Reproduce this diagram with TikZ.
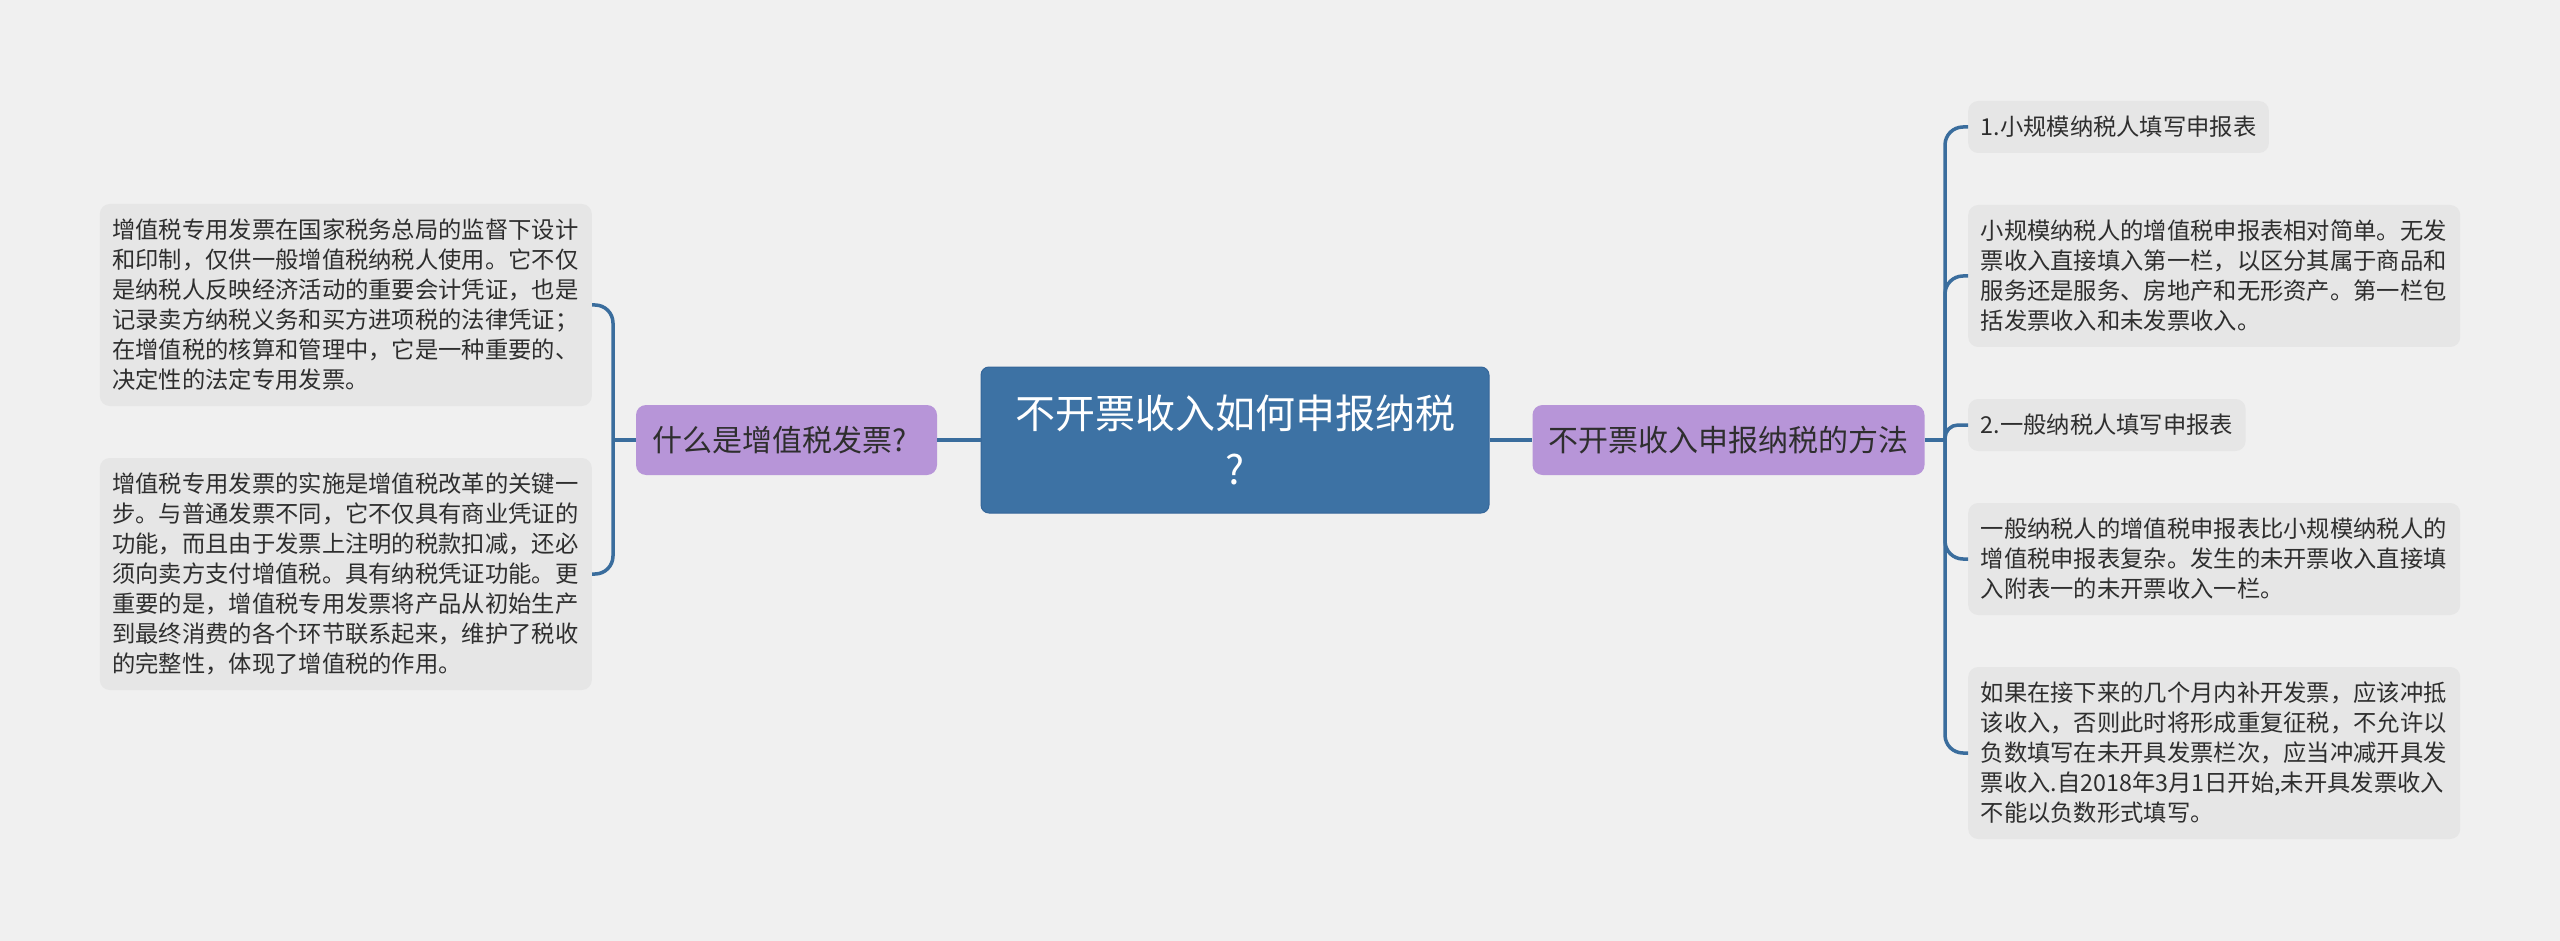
\documentclass[tikz,border=0pt]{standalone}
\usepackage{fontspec}
\setmainfont{Noto Sans CJK SC}
\definecolor{bgc}{HTML}{F0F0F0}
\definecolor{boxc}{HTML}{E6E6E6}
\definecolor{purc}{HTML}{B795D8}
\definecolor{rootc}{HTML}{3D72A4}
\definecolor{rootb}{HTML}{35669A}
\definecolor{linec}{HTML}{3A6D9D}
\definecolor{txtc}{HTML}{2E2E2E}
\tikzset{
  leaf/.style={fill=boxc, rounded corners=10pt, text=txtc, font=\fontsize{23.3}{30}\selectfont,
    inner xsep=12.5pt, inner ysep=0pt, align=left},
  leafwide/.style={leaf, text width=467pt},
  sub/.style={fill=purc, rounded corners=10pt, text=txtc, font=\fontsize{30}{36}\selectfont,
    inner xsep=16pt, inner ysep=0pt, minimum height=70pt},
  root/.style={fill=rootc, draw=rootb, line width=1pt, rounded corners=8pt, text=white,
    font=\fontsize{40}{56}\selectfont, align=center, minimum width=508pt, minimum height=146pt},
  conn/.style={draw=linec, line width=3.5pt},
}
\begin{document}
\begin{tikzpicture}[x=1pt,y=-1pt]
\useasboundingbox[fill=bgc] (0,0) rectangle (2560,941);

% central
\node[root] (root) at (1235,440) {不开票收入如何申报纳税\\?};

% main branches
\node[sub, text width=269pt, align=left] (lp) at (786.5,440) {什么是增值税发票?};
\node[sub] (rp) at (1728.5,440) {不开票收入申报纳税的方法};

% left leaves
\node[leafwide, minimum height=202pt, anchor=east] (l1) at (592,305) {增值税专用发票在国家税务总局的监督下设计\\和印制，仅供一般增值税纳税人使用。它不仅\\是纳税人反映经济活动的重要会计凭证，也是\\记录卖方纳税义务和买方进项税的法律凭证；\\在增值税的核算和管理中，它是一种重要的、\\决定性的法定专用发票。};
\node[leafwide, minimum height=232pt, anchor=east] (l2) at (592,574) {增值税专用发票的实施是增值税改革的关键一\\步。与普通发票不同，它不仅具有商业凭证的\\功能，而且由于发票上注明的税款扣减，还必\\须向卖方支付增值税。具有纳税凭证功能。更\\重要的是，增值税专用发票将产品从初始生产\\到最终消费的各个环节联系起来，维护了税收\\的完整性，体现了增值税的作用。};

% right leaves
\node[leaf, minimum height=52pt, anchor=west] (r1) at (1968,127) {1.小规模纳税人填写申报表};
\node[leafwide, minimum height=142pt, anchor=west] (r2) at (1968,276) {小规模纳税人的增值税申报表相对简单。无发\\票收入直接填入第一栏，以区分其属于商品和\\服务还是服务、房地产和无形资产。第一栏包\\括发票收入和未发票收入。};
\node[leaf, minimum height=52pt, anchor=west] (r3) at (1968,425) {2.一般纳税人填写申报表};
\node[leafwide, minimum height=112pt, anchor=west] (r4) at (1968,559) {一般纳税人的增值税申报表比小规模纳税人的\\增值税申报表复杂。发生的未开票收入直接填\\入附表一的未开票收入一栏。};
\node[leafwide, minimum height=172pt, anchor=west] (r5) at (1968,753) {如果在接下来的几个月内补开发票，应该冲抵\\该收入，否则此时将形成重复征税，不允许以\\负数填写在未开具发票栏次，应当冲减开具发\\票收入.自2018年3月1日开始,未开具发票收入\\不能以负数形式填写。};

% trunk coordinates
\coordinate (lt) at (613,440);
\coordinate (rt) at (1945,440);

% connectors
\draw[conn] (root.west) -- (lp.east);
\draw[conn] (root.east) -- (rp.west);
\draw[conn] (lp.west) -- (lt);
\draw[conn] (rp.east) -- (rt);
\draw[conn, rounded corners=18pt] (l1.east) -| (lt) |- (l2.east);
\draw[conn, rounded corners=18pt] (r1.west) -| (rt) |- (r5.west);
\draw[conn, rounded corners=18pt] (rt) |- (r2.west);
\draw[conn, rounded corners=13pt] (rt) |- (r3.west);
\draw[conn, rounded corners=18pt] (rt) |- (r4.west);
\end{tikzpicture}
\end{document}
